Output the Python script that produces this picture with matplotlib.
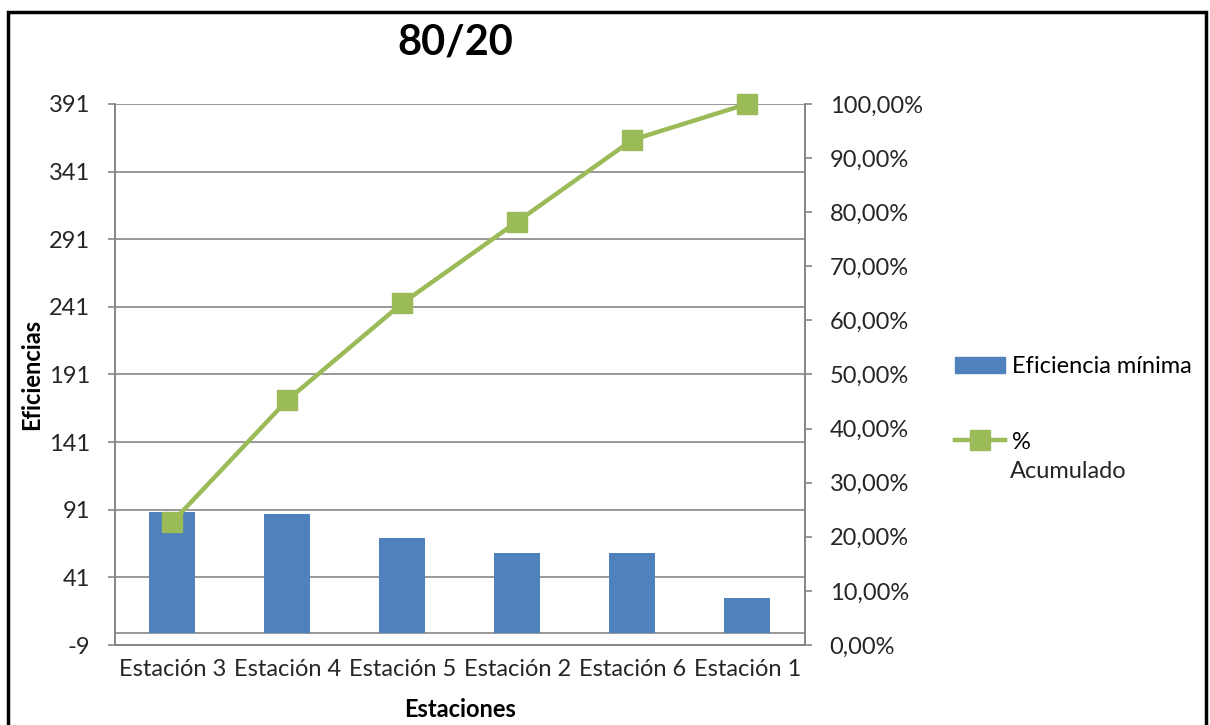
import matplotlib
matplotlib.use('Agg')
import matplotlib.pyplot as plt
from matplotlib.patches import Rectangle, Patch
from matplotlib.lines import Line2D
from matplotlib.ticker import FuncFormatter

plt.rcParams['font.family'] = ['Lato', 'DejaVu Sans']
plt.rcParams['axes.unicode_minus'] = False

estaciones = ['Estación 3', 'Estación 4', 'Estación 5', 'Estación 2', 'Estación 6', 'Estación 1']
eficiencia = [89, 88, 70, 59, 59, 26]
acumulado = [22.76, 45.27, 63.17, 78.26, 93.35, 100.0]
left_ticks = [-9, 41, 91, 141, 191, 241, 291, 341, 391]
right_ticks = [0, 10, 20, 30, 40, 50, 60, 70, 80, 90, 100]

blue = '#4F81BD'
green = '#9BBB59'
grid_c = '#868686'
txt_c = '#262626'
fs = 17

fig = plt.figure(figsize=(12.1, 7.25), dpi=100)
ax = fig.add_axes([0.095, 0.1103, 0.57, 0.7463])
ax2 = ax.twinx()

x = range(len(estaciones))
ax.bar(x, eficiencia, width=0.4, color=blue, zorder=2)
ax.set_xlim(-0.5, len(estaciones) - 0.5)
ax.set_ylim(-9, 391)
ax.set_yticks(left_ticks)
for t in left_ticks[1:]:
    ax.axhline(t, color=grid_c, lw=1.2, zorder=1)
ax.axhline(0, color=grid_c, lw=1.2, zorder=1)
ax.set_xticks(list(x))
ax.set_xticklabels(estaciones)
ax.tick_params(axis='x', length=0, labelsize=fs, pad=10, labelcolor=txt_c)
ax.tick_params(axis='y', length=5, width=1.2, color=grid_c, labelsize=fs, pad=13, labelcolor=txt_c)

ax2.plot(list(x), acumulado, color=green, lw=3.2, marker='s', markersize=14, zorder=3, clip_on=False)
ax2.set_ylim(0, 100)
ax2.set_yticks(right_ticks)
ax2.yaxis.set_major_formatter(FuncFormatter(lambda v, p: f'{v:.2f}%'.replace('.', ',')))
ax2.tick_params(axis='y', length=5, width=1.2, color=grid_c, labelsize=fs, pad=13, labelcolor=txt_c)

for a in (ax, ax2):
    for s in a.spines.values():
        s.set_color(grid_c)
        s.set_linewidth(1.2)
    a.spines['top'].set_visible(False)

ax.set_ylabel('Eficiencias', fontsize=fs, fontweight='bold', labelpad=4)
ax.set_xlabel('Estaciones', fontsize=fs, fontweight='bold', labelpad=13)
fig.text(0.376, 0.941, '80/20', ha='center', va='center', fontsize=30, fontweight='bold')

handles = [Patch(color=blue), Line2D([], [], color=green, lw=3.2, marker='s', markersize=14)]
fig.legend(handles, ['Eficiencia mínima', '%'], loc='upper left',
           bbox_to_anchor=(0.772, 0.538), frameon=False, fontsize=fs,
           handlelength=2.1, labelspacing=2.3, handletextpad=0.3, borderpad=0.4)
fig.text(0.835, 0.349, 'Acumulado', ha='left', va='center', fontsize=fs, color=txt_c)

fig.patches.append(Rectangle((0.0066, -0.01), 0.99, 0.993, transform=fig.transFigure,
                             fill=False, edgecolor='black', lw=2.5))

fig.savefig('out.png', dpi=100)
